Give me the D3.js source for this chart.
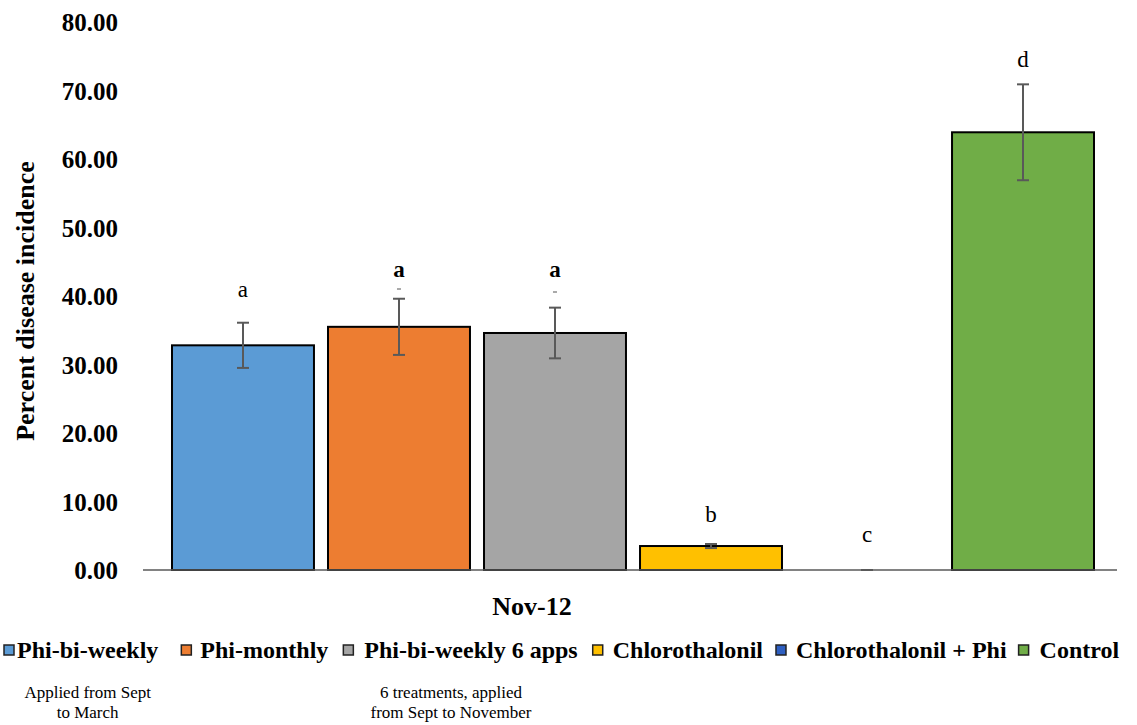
<!DOCTYPE html>
<html>
<head>
<meta charset="utf-8">
<script src="https://cdn.jsdelivr.net/npm/d3@7"></script>
</head>
<body style="margin:0;background:#fff">
<script>
// ---------------Data---------------
const treatments = ['Phi-bi-weekly', 'Phi-monthly', 'Phi-bi-weekly 6 apps', 'Chlorothalonil', 'Chlorothalonil + Phi', 'Control']
const incidence = [32.8, 35.5, 34.6, 3.5, 0, 63.9]
const stdErr = [3.3, 4.1, 3.7, 0.3, 0, 7.0]
const letters = ['a', 'a', 'a', 'b', 'c', 'd']
const colors = ['#5b9bd5', '#ed7d31', '#a5a5a5', '#ffc000', '#2e5fc1', '#70ad47']
const yTicks = [0, 10, 20, 30, 40, 50, 60, 70, 80]
const category = 'Nov-12'
const notes = [
  { item: 0, shift: 0, lines: ['Applied from Sept', 'to March'] },
  { item: 2, shift: -20, lines: ['6 treatments, applied', 'from Sept to November'] }
]

const fullWidth = 1137
const fullHeight = 725
const serif = '"Liberation Serif"'

const svg = d3.select('body')
  .append('svg')
  .attr('width', fullWidth)
  .attr('height', fullHeight)

const x = d3.scaleBand()
  .domain(treatments)
  .range([172, 1094])
  .paddingInner(0.09)
  .paddingOuter(0)

const y = d3.scaleLinear()
  .domain([0, 80])
  .range([570, 22])

// ---------------Y axis---------------
const yAxis = svg.append('g')
  .attr('transform', 'translate(118,0)')
  .call(d3.axisLeft(y).tickValues(yTicks).tickSize(0).tickPadding(0).tickFormat(d3.format('.2f')))

yAxis.select('.domain').remove()
yAxis.selectAll('.tick text')
  .style('font-family', serif)
  .style('font-size', '25px')
  .style('font-weight', 'bold')
  .attr('dy', '0.34em')
  .attr('fill', '#000')

svg.append('text')
  .attr('transform', 'translate(34,301) rotate(-90)')
  .attr('text-anchor', 'middle')
  .style('font-family', serif)
  .style('font-size', '26px')
  .style('font-weight', 'bold')
  .text('Percent disease incidence')

// ---------------Bars---------------
svg.selectAll('.bar')
  .data(treatments)
  .enter().append('rect')
  .attr('class', 'bar')
  .attr('x', d => x(d))
  .attr('width', x.bandwidth())
  .attr('y', (d, i) => y(incidence[i]))
  .attr('height', (d, i) => y(0) - y(incidence[i]))
  .attr('fill', (d, i) => colors[i])
  .attr('stroke', (d, i) => incidence[i] > 0 ? '#000' : 'none')
  .attr('stroke-width', 2)

// baseline
svg.append('line')
  .attr('x1', 143).attr('x2', 1117)
  .attr('y1', y(0)).attr('y2', y(0))
  .attr('stroke', '#595959')
  .attr('stroke-width', 1.5)

// ---------------Error bars---------------
const err = svg.selectAll('.err')
  .data(treatments)
  .enter().append('g')
  .attr('class', 'err')
  .attr('transform', d => `translate(${x(d) + x.bandwidth() / 2},0)`)
  .attr('stroke', '#595959')
  .attr('stroke-width', 2)

err.append('line')
  .attr('y1', (d, i) => y(incidence[i] + stdErr[i]))
  .attr('y2', (d, i) => y(incidence[i] - stdErr[i]))
err.append('line')
  .attr('x1', -6).attr('x2', 6)
  .attr('y1', (d, i) => y(incidence[i] + stdErr[i]))
  .attr('y2', (d, i) => y(incidence[i] + stdErr[i]))
err.append('line')
  .attr('x1', -6).attr('x2', 6)
  .attr('y1', (d, i) => y(incidence[i] - stdErr[i]))
  .attr('y2', (d, i) => y(incidence[i] - stdErr[i]))

// ---------------Letters---------------
const letterY = [290, 270, 270, 515, 535, 60]
svg.selectAll('.letter')
  .data(treatments)
  .enter().append('text')
  .attr('class', 'letter')
  .attr('x', d => x(d) + x.bandwidth() / 2)
  .attr('y', (d, i) => letterY[i] + 7)
  .attr('text-anchor', 'middle')
  .style('font-family', serif)
  .style('font-size', '23px')
  .style('font-weight', (d, i) => (i === 1 || i === 2) ? 'bold' : 'normal')
  .text((d, i) => letters[i])

// small dash marks under the bold letters
;[1, 2].forEach(i => {
  svg.append('line')
    .attr('x1', x(treatments[i]) + x.bandwidth() / 2 - 2)
    .attr('x2', x(treatments[i]) + x.bandwidth() / 2 + 2)
    .attr('y1', i === 1 ? 289 : 292)
    .attr('y2', i === 1 ? 289 : 292)
    .attr('stroke', '#555')
    .attr('stroke-width', 1)
})

// ---------------Category label---------------
svg.append('text')
  .attr('x', 532)
  .attr('y', 615)
  .attr('text-anchor', 'middle')
  .style('font-family', serif)
  .style('font-size', '26px')
  .style('font-weight', 'bold')
  .text(category)

// ---------------Legend---------------
const legend = svg.append('g').attr('transform', 'translate(0,651)')
const gapBefore = [4, 23, 15, 15, 13, 12]
const textOffset = [13, 19, 21, 20, 20, 21]
const itemCenters = []
let cursor = 0
treatments.forEach((t, i) => {
  cursor += gapBefore[i]
  legend.append('rect')
    .attr('x', cursor)
    .attr('y', -6)
    .attr('width', 10)
    .attr('height', 10)
    .attr('fill', colors[i])
    .attr('stroke', '#222')
    .attr('stroke-width', 1.5)
  const tx = cursor + textOffset[i]
  const label = legend.append('text')
    .attr('x', tx)
    .attr('y', 7)
    .style('font-family', serif)
    .style('font-size', '24px')
    .style('font-weight', 'bold')
    .text(t)
  const w = label.node().getComputedTextLength()
  itemCenters.push(tx + w / 2)
  cursor = tx + w
})

// ---------------Notes---------------
notes.forEach(n => {
  n.lines.forEach((line, j) => {
    svg.append('text')
      .attr('x', itemCenters[n.item] + n.shift)
      .attr('y', 698 + j * 20)
      .attr('text-anchor', 'middle')
      .style('font-family', serif)
      .style('font-size', '17px')
      .text(line)
  })
})
</script>
</body>
</html>
